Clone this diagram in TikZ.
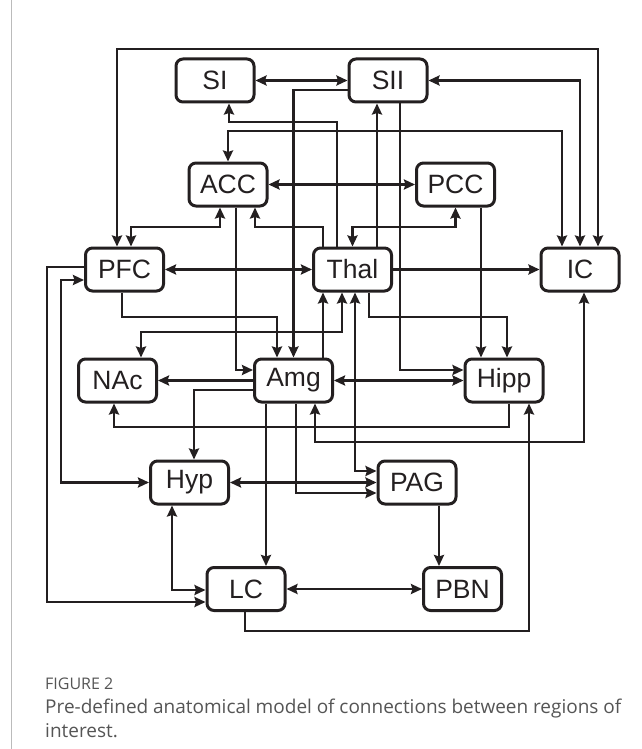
\documentclass[tikz,border=0pt]{standalone}
\usepackage{fontspec}
\setmainfont{Liberation Sans}
\newfontfamily\capfont{Open Sans}
\usetikzlibrary{arrows.meta}
\definecolor{ink}{HTML}{231F20}
\definecolor{capgray}{HTML}{555555}
\definecolor{framegray}{HTML}{BBBBBB}
\begin{document}
\begin{tikzpicture}[x=1pt,y=-1pt,
  box/.style={draw=ink, line width=3pt, rounded corners=7pt, minimum width=78pt, minimum height=43pt, inner sep=0pt, text=ink, font=\fontsize{26.5}{27}\selectfont},
  ln/.style={line width=2.9pt, draw=ink},
  arr/.style={ln, -{Stealth[length=11pt,width=10pt,inset=1.5pt]}},
  barr/.style={ln, {Stealth[length=11pt,width=10pt,inset=1.5pt]}-{Stealth[length=11pt,width=10pt,inset=1.5pt]}}]
\useasboundingbox (0,0) rectangle (641,749);
\draw[framegray, line width=0.8pt] (11,0) -- (11,749);

\node[box] (SI) at (215,80.5) {SI};
\node[box] (SII) at (388,80.5) {SII};
\node[box] (ACC) at (228,184.5) {ACC};
\node[box] (PCC) at (455.5,184.5) {PCC};
\node[box] (PFC) at (124.5,269.5) {PFC};
\node[box] (Thal) at (352.5,269.5) {Thal};
\node[box] (IC) at (580,269.5) {IC};
\node[box] (NAc) at (117.5,380.5) {NAc};
\node[box] (Amg) at (293.5,380.5) {Amg};
\node[box] (Hipp) at (504,380.5) {Hipp};
\node[box] (Hyp) at (189.5,482.5) {Hyp};
\node[box] (PAG) at (417,482.5) {PAG};
\node[box] (LC) at (246,589) {LC};
\node[box] (PBN) at (462.5,589) {PBN};

\draw[barr] ([xshift=-7.5pt]PFC.north) -- (117,49) -- (598,49) -- ([xshift=18pt]IC.north);
\draw[barr] (SII.east) -- (580,80.5) -- (IC.north);
\draw[barr] (ACC.north) -- (228,131) -- (562,131) -- ([xshift=-18pt]IC.north);
\draw[barr] (SI.east) -- (SII.west);
\draw[arr] ([xshift=-15.5pt]Thal.north) -- (337,122) -- (229,122) -- ([xshift=14pt]SI.south);
\draw[arr] ([xshift=24.5pt]Thal.north) -- ([xshift=-11pt]SII.south);
\draw[arr] ([yshift=-9.5pt]SII.west) -- (293.5,90) -- (Amg.north);
\draw[arr] ([xshift=12pt]SII.south) -- (400,370) -- ([yshift=10.5pt]Hipp.west);
\draw[barr] (ACC.east) -- (PCC.west);
\draw[arr] ([xshift=-29.5pt]Thal.north) -- (323,227) -- (255,227) -- ([xshift=27pt]ACC.south);
\draw[barr] (Thal.north) -- (352.5,227) -- (455.5,227) -- (PCC.south);
\draw[barr] ([xshift=6.5pt]PFC.north) -- (131,227) -- (220,227) -- ([xshift=-8pt]ACC.south);
\draw[barr] (PFC.east) -- (Thal.west);
\draw[arr] (Thal.east) -- (IC.west);
\draw[arr] ([xshift=25.5pt]PCC.south) -- ([xshift=-23pt]Hipp.north);
\draw[arr] ([xshift=16.5pt]Thal.south) -- (369,317) -- (507,317) -- ([xshift=3pt]Hipp.north);
\draw[arr] ([xshift=8pt]ACC.south) -- (236,370) -- ([yshift=10.5pt]Amg.west);
\draw[arr] ([xshift=-2.5pt]PFC.south) -- (122,317) -- (277,317) -- ([xshift=-16.5pt]Amg.north);
\draw[arr] ([xshift=29.5pt]Amg.north) -- ([xshift=-29.5pt]Thal.south);
\draw[barr] ([xshift=-10.5pt]Thal.south) -- (342,332) -- (141,332) -- ([xshift=23.5pt]NAc.north);
\draw[barr] ([xshift=2.5pt]Thal.south) -- (355,471) -- ([yshift=11.5pt]PAG.west);
\draw[barr] (Amg.east) -- (Hipp.west);
\draw[arr] (Amg.west) -- (NAc.east);
\draw[arr] ([yshift=-9.5pt]Amg.west) -- (194,390) -- ([xshift=4.5pt]Hyp.north);
\draw[arr] ([xshift=5pt]Hipp.south) -- (509,427) -- (114,427) -- ([xshift=-3.5pt]NAc.south);
\draw[barr] ([xshift=4pt]IC.south) -- (584,442) -- (315,442) -- ([xshift=21.5pt]Amg.south);
\draw[arr] ([xshift=-27.5pt]Amg.south) -- ([xshift=20pt]LC.north);
\draw[arr] ([xshift=2.5pt]Amg.south) -- (296,493) -- ([yshift=-10.5pt]PAG.west);
\draw[barr] (Hyp.east) -- (PAG.west);
\draw[arr] ([xshift=22pt]PAG.south) -- ([xshift=-23.5pt]PBN.north);
\draw[arr] ([xshift=-1pt]LC.south) -- (245,631) -- (529,631) -- ([xshift=25pt]Hipp.south);
\draw[barr] (LC.east) -- (PBN.west);
\draw[barr] ([xshift=-17.5pt]Hyp.south) -- (172,590) -- ([yshift=-1pt]LC.west);
\draw[arr] ([yshift=2.5pt]PFC.west) -- (47,267) -- (47,602) -- ([yshift=-13pt]LC.west);
\draw[barr] ([yshift=-10.5pt]PFC.west) -- (61,280) -- (61,482.5) -- (Hyp.west);

\node[anchor=base west, inner sep=0pt, text=capgray, font=\capfont\fontsize{16}{17}\selectfont] (fig) at (45,689) {FIGURE 2};
\node[anchor=base west, inner sep=0pt, text=capgray, font=\capfont\fontsize{19}{20}\selectfont] (cap1) at (45,713) {\makebox[576pt][s]{Pre-defined anatomical model of connections between regions of}};
\node[anchor=base west, inner sep=0pt, text=capgray, font=\capfont\fontsize{19}{20}\selectfont] (cap2) at (45,737) {interest.};
\end{tikzpicture}
\end{document}
